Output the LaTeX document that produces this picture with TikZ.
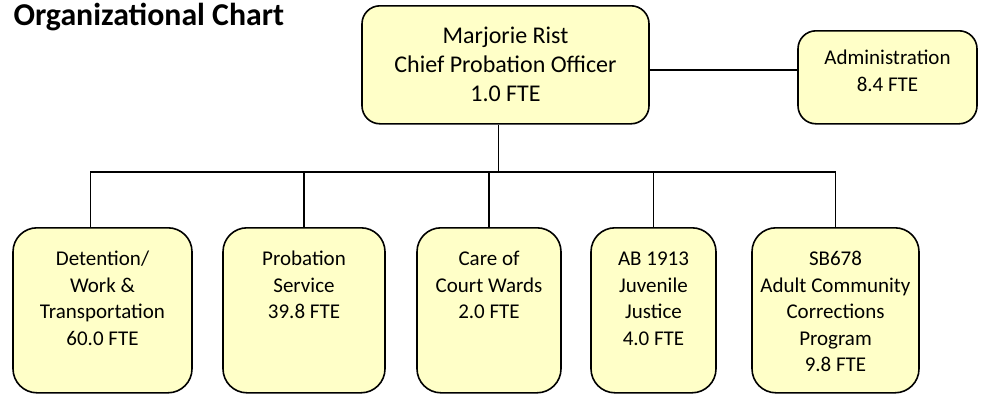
\documentclass[tikz,border=0pt]{standalone}
\usepackage{fontspec}
\setmainfont{Carlito}
\usepackage{xcolor}
\usetikzlibrary{positioning,calc}
\definecolor{unityellow}{RGB}{255,255,200}
\newcommand{\cellstack}[1]{\begin{tabular}[t]{@{}c@{}}#1\end{tabular}}
\tikzset{
    unit/.style={draw, line width=1.6pt, fill=unityellow, rounded corners=#1,
        inner sep=0pt, anchor=north},
    link/.style={line width=1.5pt}
}

\begin{document}
\begin{tikzpicture}[x=1pt, y=-1pt]
                                \useasboundingbox (0, 0) rectangle (1001, 394);
                                \node[anchor=base west, font=\bfseries\fontsize{31.8}{38}\selectfont] (title) at (10, 25) {Organizational Chart};

                                \node[unit=18pt, minimum width=287pt, text height=38pt, text depth=80pt,
                                    font=\fontsize{24}{29}\selectfont] (chief) at (505.5, 5)
                                    {\cellstack{Marjorie Rist\\Chief Probation Officer\\1.0 FTE}};
                                \node[unit=18pt, minimum width=179pt, text height=34pt, text depth=59pt,
                                    font=\fontsize{21}{26.5}\selectfont] (admin) at (887.5, 30)
                                    {\cellstack{Administration\\8.4 FTE}};

                                \begin{scope}[every node/.style={unit=24pt, text height=38pt, text depth=127pt,
                                    font=\fontsize{21}{26.5}\selectfont}]
                                \node[minimum width=179pt] (det) at (102.5, 227) {\cellstack{Detention/\\Work \&\\Transportation\\60.0 FTE}};
                                \node[minimum width=162pt] (prob) at (304, 227) {\cellstack{Probation\\Service\\39.8 FTE}};
                                \node[minimum width=144pt] (care) at (489, 227) {\cellstack{Care of\\Court Wards\\2.0 FTE}};
                                \node[minimum width=125pt] (ab) at (653.5, 227) {\cellstack{AB 1913\\Juvenile\\Justice\\4.0 FTE}};
                                \node[minimum width=167pt] (sb) at (835.5, 227) {\cellstack{SB678\\Adult Community\\Corrections\\Program\\9.8 FTE}};
                                \end{scope}

                                % connectors
                                \coordinate (side) at (0, 70);
                                \coordinate (bus) at (0, 172);
                                \draw[link] (chief.east |- side) -- (admin.west |- side);
                                \draw[link] ([xshift=-7pt]chief.south) -- ([xshift=-7pt]chief.south |- bus);
                                \draw[link] ([xshift=-12pt]det.north) -- ([xshift=-12pt]det.north |- bus) -- (sb.north |- bus) -- (sb.north);
                                \draw[link] (prob.north) -- (prob.north |- bus);
                                \draw[link] (care.north) -- (care.north |- bus);
                                \draw[link] (ab.north) -- (ab.north |- bus);
                            \end{tikzpicture}
\end{document}
